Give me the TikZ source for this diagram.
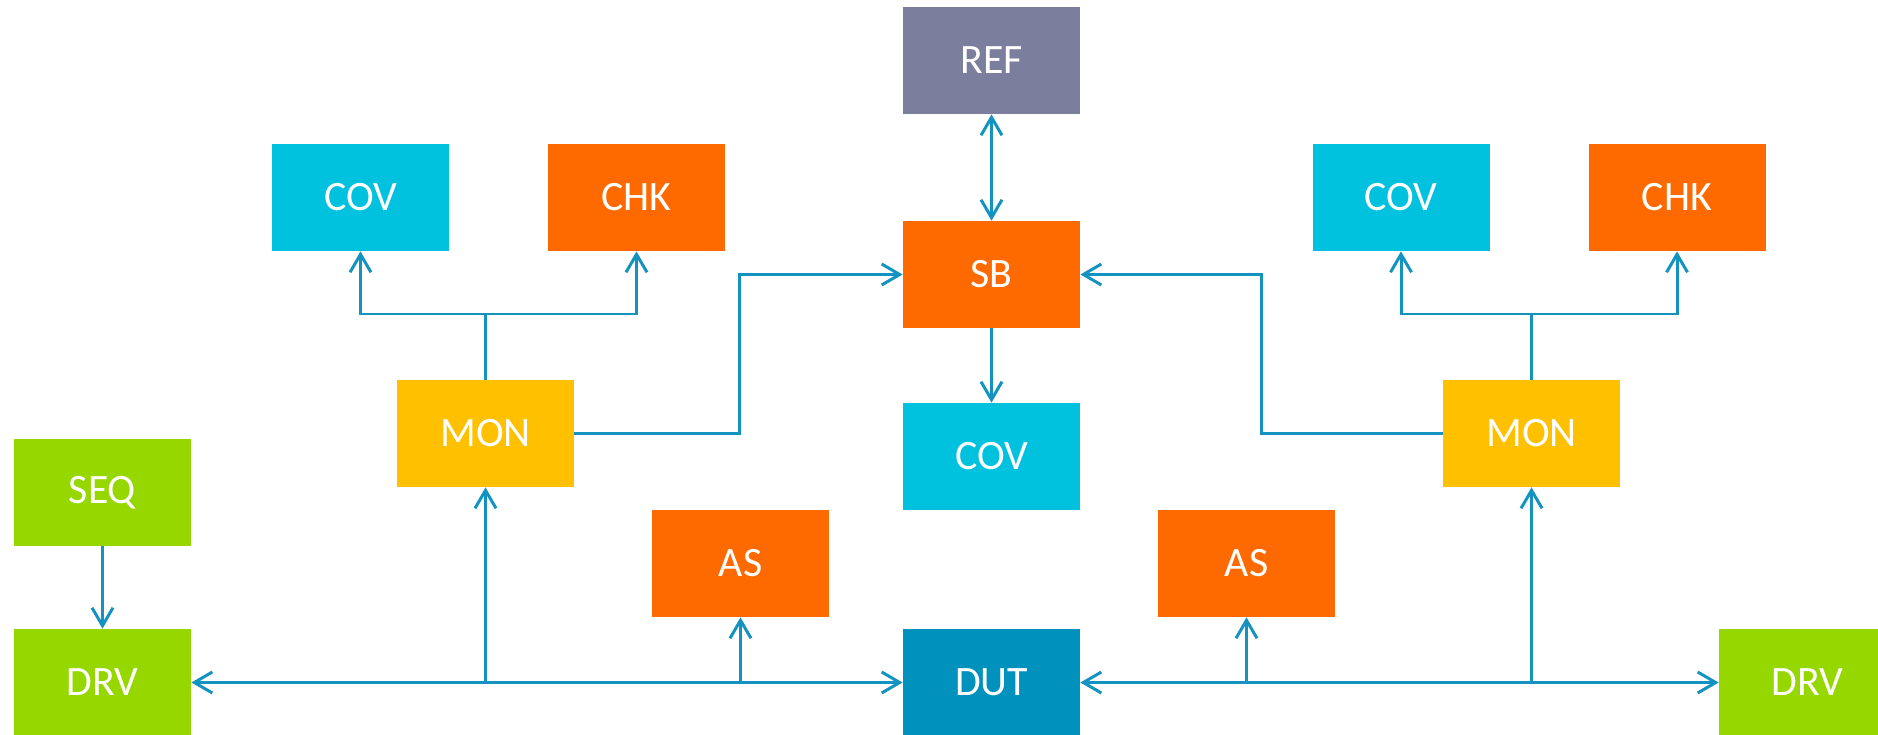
\documentclass[tikz,border=0pt]{standalone}
\usepackage{fontspec}
\setmainfont{Carlito}
\usepackage{xcolor}
\usetikzlibrary{arrows.meta}

\definecolor{refgris}{HTML}{7B7F9D}
\definecolor{naranja}{HTML}{FF6A00}
\definecolor{cian}{HTML}{00C1DE}
\definecolor{azuldut}{HTML}{0091BD}
\definecolor{amarillo}{HTML}{FFC000}
\definecolor{verde}{HTML}{97D700}
\definecolor{linea}{HTML}{1593C0}

\begin{document}
\begin{tikzpicture}[
        % Estilo general para los bloques
        block/.style={
            rectangle,
            draw=none,
            text=white,
            minimum width=3.54cm,
            minimum height=2.14cm,
            inner sep=0pt,
            font=\fontsize{23.8}{28}\selectfont
        },
        refblock/.style={block, fill=refgris},
        orblock/.style={block, fill=naranja},
        covblock/.style={block, fill=cian},
        dutblock/.style={block, fill=azuldut},
        monblock/.style={block, fill=amarillo},
        agblock/.style={block, fill=verde},
        % Flechas de una sola direccion
        arrow/.style={
            draw=linea,
            line width=1.7pt,
            -{Straight Barb[length=3.6mm, width=4.2mm]}
        },
        % Flechas bidireccionales
        biarrow/.style={
            arrow,
            {Straight Barb[length=3.6mm, width=4.2mm]}-{Straight Barb[length=3.6mm, width=4.2mm]}
        },
        % Lineas sin punta
        wire/.style={
            draw=linea,
            line width=1.7pt
        }
    ]

        \useasboundingbox (0,0) rectangle (37.56,14.68);

        % Nodos centrales
        \node[refblock] (ref) at (19.83, 13.47) {REF};
        \node[orblock]  (sb)  at (19.83, 9.19)  {SB};
        \node[covblock] (cov) at (19.83, 5.55)  {COV};
        \node[dutblock] (dut) at (19.83, 1.03)  {DUT};

        % Lado izquierdo
        \node[covblock] (covA) at (7.21, 10.73) {COV};
        \node[orblock]  (chkA) at (12.73, 10.73) {CHK};
        \node[monblock] (monA) at (9.71, 6.01)  {MON};
        \node[agblock]  (seq)  at (2.05, 4.83)  {SEQ};
        \node[agblock]  (drvA) at (2.05, 1.03)  {DRV};
        \node[orblock]  (asA)  at (14.81, 3.41) {AS};

        % Lado derecho
        \node[covblock] (covB) at (28.02, 10.73) {COV};
        \node[orblock]  (chkB) at (33.54, 10.73) {CHK};
        \node[monblock] (monB) at (30.63, 6.01)  {MON};
        \node[orblock]  (asB)  at (24.93, 3.41)  {AS};
        \node[agblock]  (drvB) at (36.15, 1.03)  {DRV};

        % Puntos de quiebre
        \coordinate (ramaA) at (9.71, 8.4);
        \coordinate (ramaB) at (30.63, 8.4);
        \coordinate (codoA) at (14.78, 9.19);
        \coordinate (codoB) at (25.22, 9.19);

        % --- CONEXIONES ---

        % 1. Referencia y scoreboard
        \draw[biarrow] (ref.south) -- (sb.north);
        \draw[arrow] (sb.south) -- (cov.north);

        % 2. Secuenciador -> driver
        \draw[arrow] (seq.south) -- (drvA.north);

        % 3. Buses hacia el DUT
        \draw[biarrow] (drvA.east) -- (dut.west);
        \draw[biarrow] (dut.east) -- (drvB.west);
        \draw[arrow] (monA.south |- dut.west) -- (monA.south);
        \draw[arrow] (asA.south |- dut.west) -- (asA.south);
        \draw[arrow] (monB.south |- dut.east) -- (monB.south);
        \draw[arrow] (asB.south |- dut.east) -- (asB.south);

        % 4. Monitores -> cobertura y checker
        \draw[wire] (monA.north) -- (ramaA);
        \draw[arrow] (ramaA) -| (covA.south);
        \draw[arrow] (ramaA) -| (chkA.south);
        \draw[wire] (monB.north) -- (ramaB);
        \draw[arrow] (ramaB) -| (covB.south);
        \draw[arrow] (ramaB) -| (chkB.south);

        % 5. Monitores -> scoreboard
        \draw[arrow] (monA.east) -| (codoA) -- (sb.west);
        \draw[arrow] (monB.west) -| (codoB) -- (sb.east);

    \end{tikzpicture}
\end{document}
